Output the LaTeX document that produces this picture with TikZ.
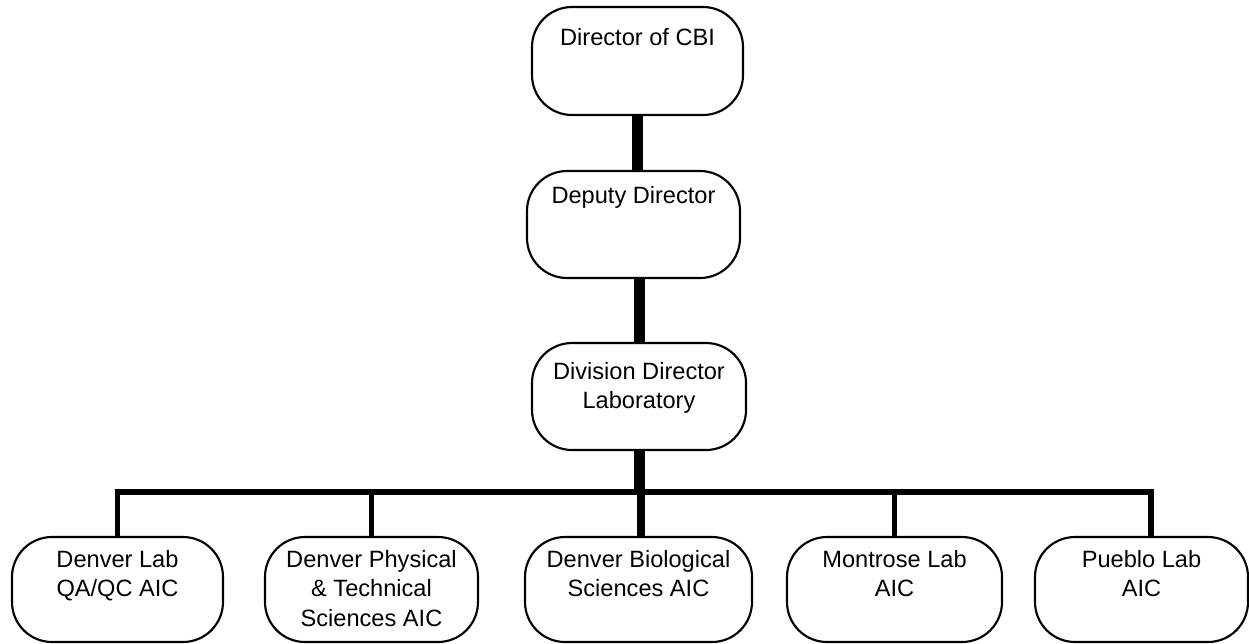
\documentclass[tikz,border=0pt]{standalone}
\usepackage{fontspec}
\setmainfont{Liberation Sans}
\newdimen\px
\px=0.75pt
% text at the top of a box: height, gap above first line, text
\newcommand{\boxlabel}[3]{\parbox[c][#1\px][t]{200\px}{\centering\vspace*{#2\px}#3}}

\begin{document}
\begin{tikzpicture}[x=0.75pt,y=-0.75pt,
  orgbox/.style={draw, line width=1.6pt, rounded corners=30pt, inner sep=0pt,
    font=\fontsize{17.7pt}{22.1pt}\selectfont},
  stem/.style={line width=8.25pt},
  drop/.style={line width=4.1pt}]
  \useasboundingbox (0,0) rectangle (1249,643);
  % Ledning
  \node[orgbox, minimum width=211\px, minimum height=108\px] (dir) at (637.5,61)
    {\boxlabel{108}{21}{Director of CBI}};
  \node[orgbox, minimum width=213\px, minimum height=107\px] (dep) at (633.5,224.5)
    {\boxlabel{107}{15}{Deputy Director}};
  \node[orgbox, minimum width=214\px, minimum height=107\px] (div) at (639,396.5)
    {\boxlabel{107}{19}{Division Director\\Laboratory}};
  % Laboratorier
  \node[orgbox, minimum width=211\px, minimum height=105\px] (d1) at (117.5,589.5)
    {\boxlabel{105}{13}{Denver Lab\\QA/QC AIC}};
  \node[orgbox, minimum width=213\px, minimum height=105\px] (d2) at (371.5,589.5)
    {\boxlabel{105}{13}{Denver Physical\\\& Technical\\Sciences AIC}};
  \node[orgbox, minimum width=227\px, minimum height=105\px] (d3) at (638.5,589.5)
    {\boxlabel{105}{13}{Denver Biological\\Sciences AIC}};
  \node[orgbox, minimum width=215\px, minimum height=105\px] (d4) at (894.5,589.5)
    {\boxlabel{105}{13}{Montrose Lab\\AIC}};
  \node[orgbox, minimum width=213\px, minimum height=105\px] (d5) at (1141.5,589.5)
    {\boxlabel{105}{13}{Pueblo Lab\\AIC}};
  % Linjer
  \draw[stem] (dir.south) -- (dir.south |- dep.north);
  \draw[stem] (div.north |- dep.south) -- (div.north);
  \coordinate (bus) at (639,492);
  \draw[stem] (div.south) -- ([yshift=-3\px]bus);
  \draw[drop] (d1.north) |- (bus) -| ([xshift=9.5\px]d5.north);
  \foreach \n in {d2,d4}
    \draw[drop] (\n.north) -- (\n.north |- bus);
  \draw[drop, line width=6pt] ([xshift=2\px]bus) -- ([xshift=2\px]bus |- d3.north);
\end{tikzpicture}
\end{document}
